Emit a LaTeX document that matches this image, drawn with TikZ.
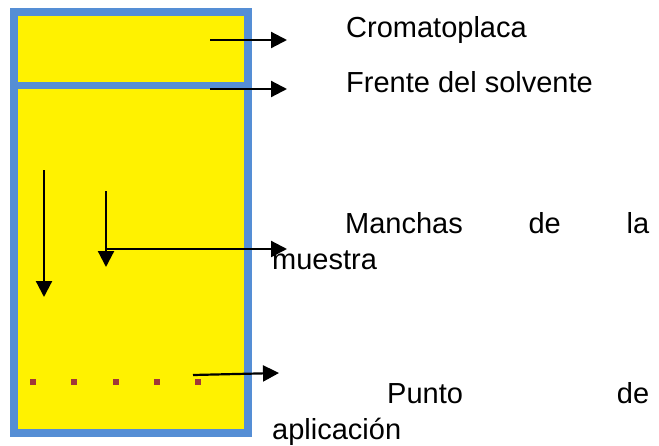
\documentclass[tikz,border=0pt]{standalone}
\usepackage{fontspec}
\setmainfont{Liberation Sans}
\usetikzlibrary{arrows.meta}
\usetikzlibrary{positioning}
\definecolor{plateblue}{RGB}{85,142,213}
\definecolor{spotred}{RGB}{160,56,56}

\begin{document}
\begin{tikzpicture}[x=1pt,y=-1pt,
    every node/.style={inner sep=0pt,font=\fontsize{29}{36.5}\selectfont},
    pointer/.style={line width=2.2pt,-{Triangle[length=16pt,width=16pt]}}]
    \useasboundingbox (0,0) rectangle (659,445);
    % la placa
    \fill[yellow] (14,12) rectangle (248,433);
    \draw[plateblue, line width=7.5pt] (14,12) rectangle (248,433);
    \draw[plateblue, line width=7.5pt] (14,85.5) -- (248,85.5);
    % puntos de aplicacion
    \foreach \x in {33,74,116,157,198}
        \fill[spotred] (\x-2.75,379.25) rectangle ++(5.5,5.5);
    % textos
    \node[anchor=base west] (placa) at (346,37) {Cromatoplaca};
    \node[anchor=base west] (frente) at (346,92) {Frente del solvente};
    \node[anchor=base west,text width=377pt,align=left] (manchas) at (272,233)
        {\hspace*{73pt}Manchas\hfill de\hfill la\\muestra};
    \node[anchor=base west,text width=377pt,align=left] (punto) at (272,403)
        {\hspace*{115pt}Punto\hfill de\\aplicación};
    % flechas
    \coordinate (placa-a) at (210,40);
    \coordinate (placa-b) at (287,40);
    \coordinate (frente-a) at (210,89);
    \coordinate (frente-b) at (287,89);
    \coordinate (run1-a) at (44,170);
    \coordinate (run1-b) at (44,297);
    \coordinate (run2-a) at (106,191);
    \coordinate (run2-b) at (106,267);
    \coordinate (manchas-a) at (106,249);
    \coordinate (manchas-b) at (287,249);
    \coordinate (punto-a) at (193,375);
    \coordinate (punto-b) at (279,373);
    \draw[pointer] (placa-a) -- (placa-b);
    \draw[pointer] (frente-a) -- (frente-b);
    \draw[pointer] (run1-a) -- (run1-b);
    \draw[pointer] (run2-a) -- (run2-b);
    \draw[pointer] (manchas-a) -- (manchas-b);
    \draw[pointer] (punto-a) -- (punto-b);
\end{tikzpicture}
\end{document}
